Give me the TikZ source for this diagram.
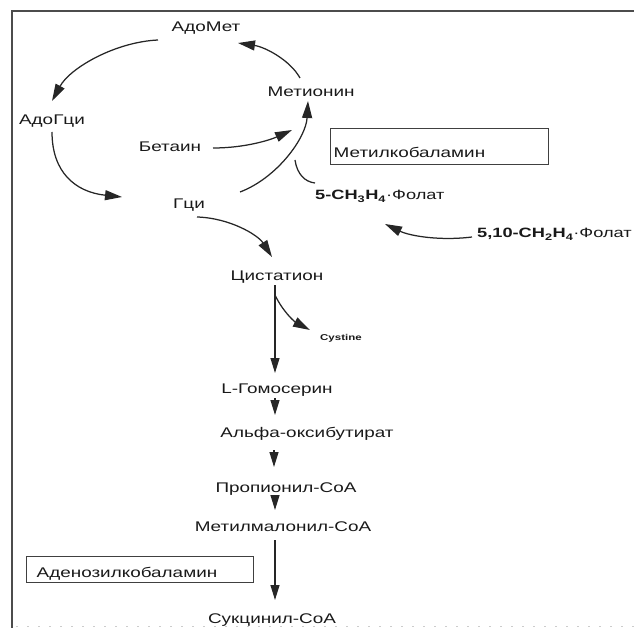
\documentclass[tikz,border=0pt]{standalone}
\usepackage{fontspec}
\setmainfont{Liberation Sans}[FakeStretch=1.35]
\usetikzlibrary{arrows.meta}
\begin{document}
\begin{tikzpicture}[x=1pt,y=-1pt,
  lbl/.style={inner sep=0pt, text=black!90, font=\fontsize{14}{16}\selectfont},
  blbl/.style={inner sep=0pt, text=black!90, font=\fontsize{13.5}{15}\selectfont\bfseries},
  conn/.style={line width=1.25pt, draw=black!85, -{Triangle[length=17pt,width=10pt]}},
  vconn/.style={line width=1.25pt, draw=black!85, -{Triangle[length=15pt,width=9pt]}},
  plainln/.style={line width=1.25pt, draw=black!85},
  frameln/.style={line width=1.6pt, draw=black!70},
  kbox/.style={draw=black!75, line width=1.4pt, inner ysep=0pt, align=left, anchor=north west, text=black!90, font=\fontsize{14}{16}\selectfont}]

\useasboundingbox (0,0) rectangle (634,628);
\draw[frameln] (634,11) -- (12,11) -- (12,628);
\draw[black!20, line width=1pt, dash pattern=on 2pt off 9pt] (16,626) -- (634,626);

% text nodes
\node[lbl, anchor=base] (adomet) at (206,32) {АдоМет};
\node[lbl, anchor=base] (met) at (311,97) {Метионин};
\node[lbl, anchor=base] (adogci) at (52,125) {АдоГци};
\node[lbl, anchor=base] (bet) at (170,152) {Бетаин};
\node[lbl, anchor=base] (gci) at (189,209) {Гци};
\node[kbox, inner xsep=3pt, text width=212pt, text height=29pt, text depth=7pt] (mkb) at (330,128) {Метилкобаламин};
\node[blbl, anchor=base west] (f5) at (315,200) {5-CH\textsubscript{3}H\textsubscript{4}\textmd{·Фолат}};
\node[blbl, anchor=base west] (f510) at (477,238) {5,10-CH\textsubscript{2}H\textsubscript{4}\textmd{·Фолат}};
\node[lbl, anchor=base] (cist) at (277,280) {Цистатион};
\node[inner sep=0pt, anchor=base west, text=black!90, font=\fontsize{8.5}{10}\selectfont\bfseries] (cys) at (320,340) {Cystine};
\node[lbl, anchor=base] (hser) at (277,393) {L-Гомосерин};
\node[lbl, anchor=base] (alfa) at (307,437) {Альфа-оксибутират};
\node[lbl, anchor=base] (prop) at (286,492) {Пропионил-СоА};
\node[lbl, anchor=base] (mmal) at (283,531) {Метилмалонил-СоА};
\node[kbox, inner xsep=10pt, text width=207pt, text height=21pt, text depth=5pt] (akb) at (26,556) {Аденозилкобаламин};
\node[lbl, anchor=base] (succ) at (272,623) {Сукцинил-СоА};

% connector end points
\coordinate (a1s) at (158,40);  \coordinate (a1e) at (52,101);
\coordinate (a2s) at (300,78);  \coordinate (a2e) at (238,43);
\coordinate (a3s) at (52,132);  \coordinate (a3e) at (122,197);
\coordinate (a4s) at (213,148); \coordinate (a4e) at (292,130);
\coordinate (a5s) at (240,192); \coordinate (a5e) at (308,101);
\coordinate (a6s) at (295,160); \coordinate (a6e) at (315,183);
\coordinate (a7s) at (472,237); \coordinate (a7e) at (385,224);
\coordinate (a8s) at (197,217); \coordinate (a8e) at (272,257);
\coordinate (a9s) at (275,285); \coordinate (a9e) at (275,373);
\coordinate (a10s) at (275,295); \coordinate (a10e) at (310,330);
\coordinate (a11s) at (275,398); \coordinate (a11e) at (275,415);
\coordinate (a12s) at (274,450); \coordinate (a12e) at (274,467);
\coordinate (a13s) at (275,497); \coordinate (a13e) at (275,510);
\coordinate (a14s) at (275,540); \coordinate (a14e) at (275,600);

% cycle
\draw[conn] (a1s) .. controls (115,42) and (70,68) .. (a1e);
\draw[conn] (a2s) .. controls (290,60) and (265,47) .. (a2e);
\draw[conn] (a3s) .. controls (52,172) and (75,192) .. (a3e);
\draw[conn] (a4s) .. controls (245,148) and (270,140) .. (a4e);
\draw[conn] (a5s) .. controls (277,178) and (306,138) .. (a5e);
\draw[plainln] (a6s) .. controls (297,174) and (305,182) .. (a6e);
\draw[conn] (a7s) .. controls (440,241) and (410,236) .. (a7e);
\draw[conn] (a8s) .. controls (230,218) and (258,235) .. (a8e);
% transsulfuration
\draw[vconn] (a9s) -- (a9e);
\draw[conn] (a10s) .. controls (283,312) and (295,322) .. (a10e);
\draw[vconn] (a11s) -- (a11e);
\draw[vconn] (a12s) -- (a12e);
\draw[vconn] (a13s) -- (a13e);
\draw[vconn] (a14s) -- (a14e);
\end{tikzpicture}
\end{document}
